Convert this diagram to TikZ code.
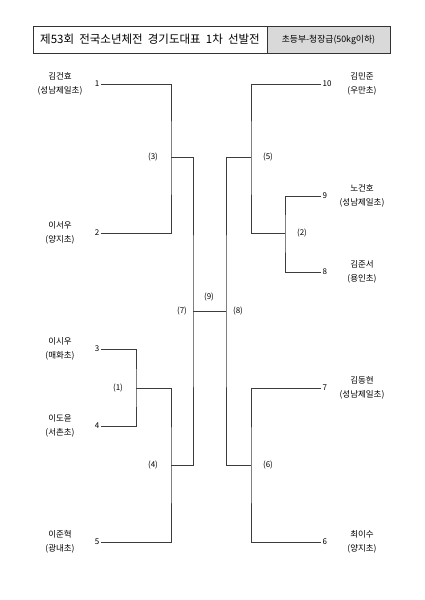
\documentclass[tikz,border=0pt]{standalone}
\usepackage{fontspec}
\setmainfont{Noto Sans CJK KR}
\usetikzlibrary{positioning}
\definecolor{linegrey}{RGB}{60,60,60}
\definecolor{boxgrey}{RGB}{217,217,217}

\begin{document}
\begin{tikzpicture}[x=1pt, y=-1pt,
  num/.style={font=\fontsize{8}{9}\selectfont, inner sep=1.5pt},
  who/.style={font=\fontsize{8.5}{14}\selectfont, align=center, inner sep=0pt},
  bout/.style={font=\fontsize{8}{9}\selectfont, inner sep=1pt},
  wire/.style={draw=linegrey, line width=0.9pt},
  head/.style={draw=black!80, line width=0.8pt, outer sep=0pt, minimum height=27pt, inner sep=0pt},
]
  \useasboundingbox (0,0) rectangle (424,600);

  % title box
  \node[head, minimum width=234pt, anchor=north west, font=\fontsize{11.5}{13}\selectfont] (title) at (33,26) {제53회\ \ 전국소년체전\ \ 경기도대표\ \ 1차\ \ 선발전};
  \node[head, fill=boxgrey, minimum width=123pt, anchor=west, font=\fontsize{8.8}{10}\selectfont] (class) at (title.east) {초등부-청장급(50kg이하)};

  % left players
  \node[num, anchor=east] (p1) at (101,84)  {1};
  \node[num, anchor=east] (p2) at (101,233) {2};
  \node[num, anchor=east] (p3) at (101,349) {3};
  \node[num, anchor=east] (p4) at (101,426) {4};
  \node[num, anchor=east] (p5) at (101,542) {5};
  \node[who] (n1) at (60,84)  {김건효\\(성남제일초)};
  \node[who] (n2) at (60,233) {이서우\\(양지초)};
  \node[who] (n3) at (60,349) {이시우\\(매화초)};
  \node[who] (n4) at (60,426) {이도윤\\(서촌초)};
  \node[who] (n5) at (60,542) {이준혁\\(광내초)};

  % right players
  \node[num, anchor=west] (p10) at (321,84)  {10};
  \node[num, anchor=west] (p9)  at (321,196) {9};
  \node[num, anchor=west] (p8)  at (321,272) {8};
  \node[num, anchor=west] (p7)  at (321,388) {7};
  \node[num, anchor=west] (p6)  at (321,542) {6};
  \node[who] (n10) at (362,84)  {김민준\\(우만초)};
  \node[who] (n9)  at (362,196) {노건호\\(성남제일초)};
  \node[who] (n8)  at (362,272) {김준서\\(용인초)};
  \node[who] (n7)  at (362,388) {김동현\\(성남제일초)};
  \node[who] (n6)  at (362,542) {최이수\\(양지초)};

  % bout joints
  \coordinate (m1) at (136,388);
  \coordinate (m2) at (285,233);
  \coordinate (m3) at (171,157);
  \coordinate (m4) at (171,465);
  \coordinate (m5) at (251,157);
  \coordinate (m6) at (251,465);
  \coordinate (m7) at (193,311);
  \coordinate (m8) at (226,311);

  \node[bout] (b1) at (118,388) {(1)};
  \node[bout] (b2) at (302,233) {(2)};
  \node[bout] (b3) at (153,157) {(3)};
  \node[bout] (b4) at (153,465) {(4)};
  \node[bout] (b5) at (268,157) {(5)};
  \node[bout] (b6) at (268,465) {(6)};
  \node[bout] (b7) at (182,311) {(7)};
  \node[bout] (b8) at (238,311) {(8)};
  \node[bout] (b9) at (209,297) {(9)};

  % left half
  \draw[wire] (p1.east) -| (m3) |- (p2.east);
  \draw[wire] (p3.east) -| (m1) |- (p4.east);
  \draw[wire] (m1) -| (m4) |- (p5.east);
  \draw[wire] (m3) -| (m7) |- (m4);
  \draw[wire] (m7) -- (m8);

  % right half
  \draw[wire] (p10.west) -| (m5) |- (m2);
  \draw[wire] (p9.west) -| (m2) |- (p8.west);
  \draw[wire] (m5) -| (m8) |- (m6);
  \draw[wire] (p7.west) -| (m6) |- (p6.west);
\end{tikzpicture}
\end{document}
